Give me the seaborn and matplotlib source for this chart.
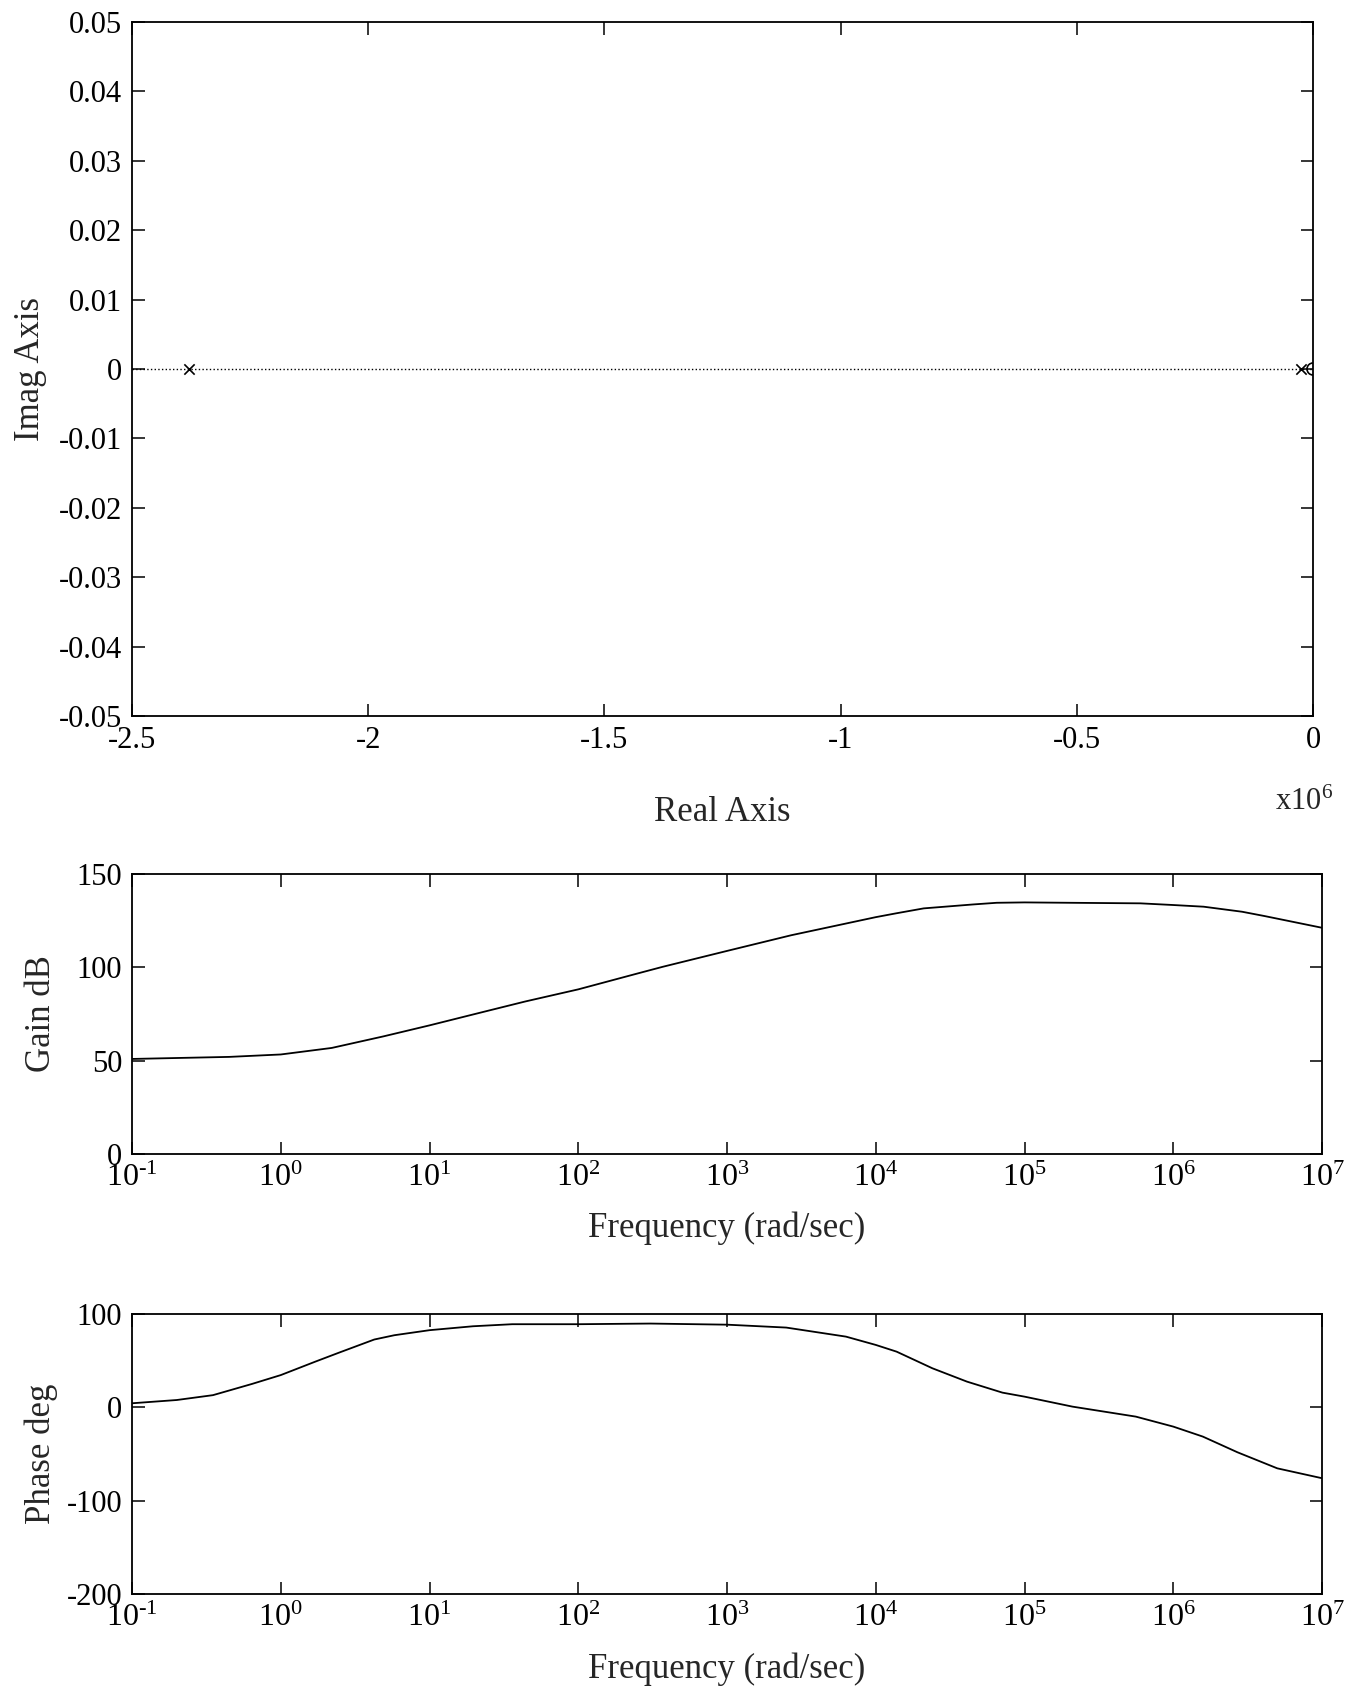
import numpy as np
import pandas as pd
import matplotlib
matplotlib.use('Agg')
import matplotlib.pyplot as plt
import seaborn as sns
from matplotlib.ticker import FixedLocator, FormatStrFormatter, FuncFormatter, NullLocator

# pole-zero map (real parts, shown in units of 10^6 on the axis)
pole_re = [-2.38e6, -2.5e4]
pole_im = [0.0, 0.0]
zero_re = [0.0]
zero_im = [0.0]

# gain (dB)
gain_w = [0.1, 0.45, 1.0, 2.2, 4.9, 10, 23.5, 44, 100, 250, 370, 1000, 2700,
          1e4, 1.36e4, 2.1e4, 4.5e4, 6.5e4, 1e5, 2e5, 6e5, 1e6, 1.6e6, 2.9e6, 4.1e6, 1e7]
gain_db = [50.9, 52.0, 53.3, 56.8, 63.0, 68.9, 76.3, 81.7, 88.2, 96.7, 100.3, 108.8, 117.2,
           126.9, 128.9, 131.6, 133.7, 134.6, 134.8, 134.6, 134.3, 133.4, 132.5, 129.8, 127.5, 121.2]

# phase (deg)
phase_w = [0.1, 0.2, 0.35, 0.64, 1.0, 1.7, 2.45, 4.25, 5.8, 10, 19.6, 36, 100, 306, 1000,
           2500, 6300, 1e4, 1.38e4, 2.4e4, 4.1e4, 7.1e4, 1e5, 2.1e5, 5.6e5, 1e6, 1.58e6,
           2.7e6, 5e6, 1e7]
phase_deg = [4.3, 7.8, 13.0, 25.0, 34.5, 48.8, 58.4, 72.6, 77.2, 82.6, 86.8, 89.0, 89.0, 89.7, 88.5,
             85.4, 75.7, 66.8, 59.6, 41.8, 27.5, 15.7, 11.4, 0.7, -10.0, -20.7, -31.4,
             -48.2, -65.4, -76.0]

real_ticks = [-2.5, -2, -1.5, -1, -0.5, 0]
imag_ticks = [-0.05, -0.04, -0.03, -0.02, -0.01, 0, 0.01, 0.02, 0.03, 0.04, 0.05]
freq_ticks = [1e-1, 1e0, 1e1, 1e2, 1e3, 1e4, 1e5, 1e6, 1e7]

sns.set_theme(style='ticks')
plt.rcParams['font.family'] = ['Liberation Serif', 'DejaVu Serif']
plt.rcParams['mathtext.fontset'] = 'custom'
plt.rcParams['mathtext.rm'] = 'Liberation Serif'
plt.rcParams['mathtext.default'] = 'regular'
plt.rcParams['axes.unicode_minus'] = False
plt.rcParams['axes.linewidth'] = 1.3
plt.rcParams['axes.edgecolor'] = 'black'


def pow10(v, pos):
    e = int(round(np.log10(v)))
    return r'10$^{\text{%d}}$' % e


fig = plt.figure(figsize=(13.46, 16.88), dpi=100)
ax1 = fig.add_axes([0.0981, 0.5758, 0.8774, 0.4112])
ax2 = fig.add_axes([0.0981, 0.3164, 0.8841, 0.1658])
ax3 = fig.add_axes([0.0981, 0.0557, 0.8841, 0.1659])

tick_kw = dict(direction='in', length=9, width=1.1, top=True, right=True,
               labelsize=22, colors='black')

# --- pole-zero map
ax1.axhline(0, color='black', lw=1.0, ls=':', zorder=1)
pz = pd.DataFrame({'re': np.array(pole_re) / 1e6, 'im': pole_im})
zz = pd.DataFrame({'re': np.array(zero_re) / 1e6, 'im': zero_im})
sns.scatterplot(data=pz, x='re', y='im', marker='x', color='black', s=55,
                linewidth=1.2, ax=ax1, zorder=3)
sns.scatterplot(data=zz, x='re', y='im', marker='o', facecolor='none', edgecolor='black',
                s=75, linewidth=1.2, ax=ax1, zorder=3)
ax1.set_xlim(-2.5, 0)
ax1.set_ylim(-0.05, 0.05)
ax1.xaxis.set_major_locator(FixedLocator(real_ticks))
ax1.yaxis.set_major_locator(FixedLocator(imag_ticks))
ax1.xaxis.set_major_formatter(FormatStrFormatter('%g'))
ax1.yaxis.set_major_formatter(FormatStrFormatter('%g'))
ax1.tick_params(axis='both', pad=7, **tick_kw)
ax1.set_xlabel('Real Axis', fontsize=25)
ax1.set_ylabel('Imag Axis', fontsize=25)
ax1.xaxis.set_label_coords(0.5, -0.115)
ax1.yaxis.set_label_coords(-0.072, 0.5)
ax1.text(0.992, -0.125, 'x10$^{6}$', transform=ax1.transAxes, fontsize=22,
         ha='center', va='center')

# --- bode gain
gdf = pd.DataFrame({'w': gain_w, 'g': gain_db})
sns.lineplot(data=gdf, x='w', y='g', color='black', lw=1.3, ax=ax2)
ax2.set_xscale('log')
ax2.set_xlim(0.1, 1e7)
ax2.set_ylim(0, 150)
ax2.set_yticks([0, 50, 100, 150])
ax2.set_xlabel('Frequency (rad/sec)', fontsize=25)
ax2.set_ylabel('Gain dB', fontsize=25)
ax2.xaxis.set_label_coords(0.5, -0.205)
ax2.yaxis.set_label_coords(-0.062, 0.5)

# --- bode phase
pdf_ = pd.DataFrame({'w': phase_w, 'p': phase_deg})
sns.lineplot(data=pdf_, x='w', y='p', color='black', lw=1.3, ax=ax3)
ax3.set_xscale('log')
ax3.set_xlim(0.1, 1e7)
ax3.set_ylim(-200, 100)
ax3.set_yticks([-200, -100, 0, 100])
ax3.set_xlabel('Frequency (rad/sec)', fontsize=25)
ax3.set_ylabel('Phase deg', fontsize=25)
ax3.xaxis.set_label_coords(0.5, -0.21)
ax3.yaxis.set_label_coords(-0.062, 0.5)

for ax in (ax2, ax3):
    ax.xaxis.set_major_locator(FixedLocator(freq_ticks))
    ax.xaxis.set_minor_locator(NullLocator())
    ax.xaxis.set_major_formatter(FuncFormatter(pow10))
    ax.tick_params(axis='both', pad=7, **tick_kw)
    ax.tick_params(axis='x', labelsize=23)

fig.savefig('out.png', dpi=100, facecolor='white')
